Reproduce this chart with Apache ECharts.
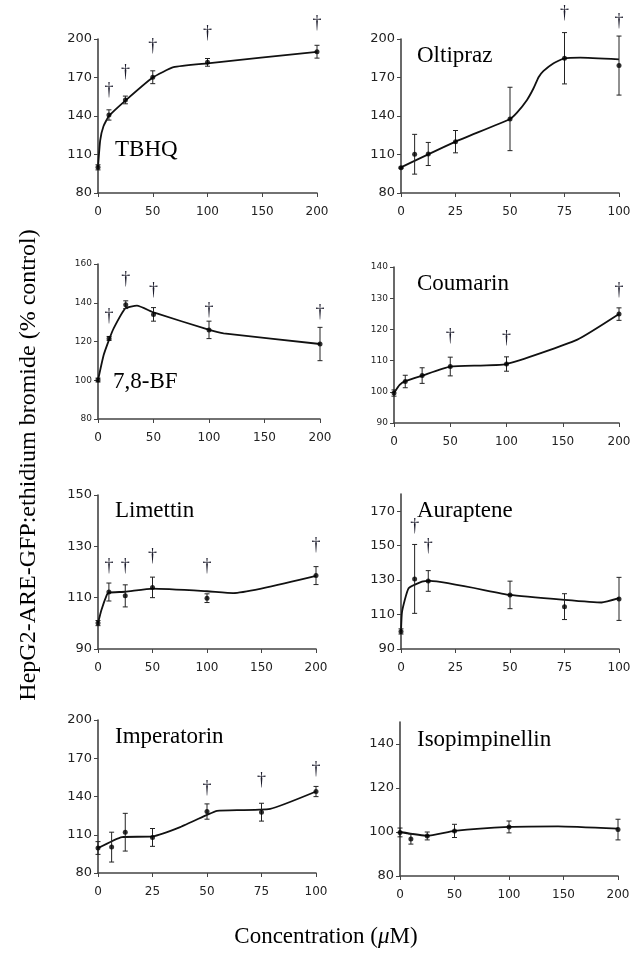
<!DOCTYPE html>
<html>
<head>
<meta charset="utf-8">
<script src="https://cdn.jsdelivr.net/npm/echarts@6/dist/echarts.min.js"></script>
<style>
  html, body { margin: 0; padding: 0; background: #fff; }
  #chart { width: 642px; height: 954px; }
</style>
</head>
<body>
<div id="chart"></div>
<script>
// ---- data (dose in µM, response in % control) ----
const tbhqDose = [0, 10, 25, 50, 100, 200];
const tbhqMean = [100, 140.8, 152.5, 170.2, 181.8, 190.1];
const tbhqErr = [2, 4, 3, 5, 3, 5];
const tbhqFit = [[0, 100], [2, 121], [5, 132], [10, 140], [25, 152], [50, 170], [69, 178], [100, 181], [200, 190]];
const tbhqSig = [[10, 160.3], [25, 174.3], [50, 194], [100, 204.4], [200, 212.2]];

const oltiDose = [0, 6.25, 12.5, 25, 50, 75, 100];
const oltiMean = [99.7, 110.2, 110.4, 120, 137.7, 185, 179.3];
const oltiErr = [0.5, 15.5, 9, 8.7, 24.7, 20, 23];
const oltiFit = [[0, 100], [25, 120], [50, 137.7], [53.2, 142.6], [57.8, 152.5], [60.8, 161.6], [63.1, 170.2], [65.4, 175.1], [70, 181.1], [74.6, 184.7], [82.2, 185.5], [100, 184.2]];
const oltiSig = [[75, 220], [100, 213.5]];

const bfDose = [0, 10, 25, 50, 100, 200];
const bfMean = [100.1, 121.6, 139, 134, 126, 118.7];
const bfErr = [1, 1, 2, 3.5, 4.5, 8.6];
const bfFit = [[0, 100], [5.1, 113], [10, 121], [14.1, 126.8], [24.6, 137.1], [35.1, 138.5], [50.1, 135], [100.3, 126], [113.2, 124.2], [200, 118.7]];
const bfSig = [[10, 132.8], [25, 152.3], [50, 146.6], [100, 136.3], [200, 134.9]];

const coumDose = [0, 10, 25, 50, 100, 200];
const coumMean = [99.6, 103.3, 105.2, 108.1, 108.9, 124.9];
const coumErr = [1, 2, 2.5, 3, 2.3, 2];
const coumFit = [[0, 99.6], [5, 102.2], [10, 103.4], [25, 105.2], [50, 108.1], [100, 108.9], [163, 116.7], [200, 124.9]];
const coumSig = [[50, 117.8], [100, 117.2], [200, 132.4]];

const limeDose = [0, 10, 25, 50, 100, 200];
const limeMean = [100.1, 112.2, 110.7, 114, 109.8, 118.6];
const limeErr = [1, 3.5, 4.3, 4, 1.7, 3.5];
const limeFit = [[0, 100], [3, 105], [8, 111], [10, 112], [25, 112.3], [50, 113.5], [100, 112.5], [124, 111.8], [200, 118.5]];
const limeSig = [[10, 122.4], [25, 122.4], [50, 126.3], [100, 122.4], [200, 130.3]];

const auraDose = [0, 6.25, 12.5, 50, 75, 100];
const auraMean = [100.2, 130.7, 129.5, 121.4, 114.6, 119.1];
const auraErr = [1.5, 20, 6, 8, 7.5, 12.5];
const auraFit = [[0, 100], [0.5, 111.8], [3.5, 125.3], [9.6, 129.1], [13.4, 129.5], [50, 121.4], [75, 118.5], [92, 117], [100, 119.5]];
const auraSig = [[6.25, 161.3], [12.5, 149.9]];

const impDose = [0, 6.25, 12.5, 25, 50, 75, 100];
const impMean = [99.6, 100.3, 112, 107.9, 128.2, 127.7, 143.9];
const impErr = [5, 11.7, 14.8, 7, 6, 7, 4];
const impFit = [[0, 99.5], [11, 108.2], [25, 108.7], [37.7, 116], [50, 125.6], [54.6, 128.8], [79, 130.3], [100, 143.9]];
const impSig = [[50, 146.5], [75, 152.5], [100, 161.4]];

const isoDose = [0, 10, 25, 50, 100, 200];
const isoMean = [99.8, 96.8, 98.2, 100.5, 102.3, 101.1];
const isoErr = [2, 2.3, 1.8, 3, 2.7, 4.7];
const isoFit = [[0, 100], [25, 98.3], [50, 100.5], [100, 102.3], [145, 102.6], [200, 101.5]];
const isoSig = [];

const names = ['TBHQ', 'Oltipraz', '7,8-BF', 'Coumarin', 'Limettin', 'Auraptene', 'Imperatorin', 'Isopimpinellin'];

const panels = [
  { name: names[0], dose: tbhqDose, mean: tbhqMean, err: tbhqErr, fit: tbhqFit, sig: tbhqSig },
  { name: names[1], dose: oltiDose, mean: oltiMean, err: oltiErr, fit: oltiFit, sig: oltiSig },
  { name: names[2], dose: bfDose, mean: bfMean, err: bfErr, fit: bfFit, sig: bfSig },
  { name: names[3], dose: coumDose, mean: coumMean, err: coumErr, fit: coumFit, sig: coumSig },
  { name: names[4], dose: limeDose, mean: limeMean, err: limeErr, fit: limeFit, sig: limeSig },
  { name: names[5], dose: auraDose, mean: auraMean, err: auraErr, fit: auraFit, sig: auraSig },
  { name: names[6], dose: impDose, mean: impMean, err: impErr, fit: impFit, sig: impSig },
  { name: names[7], dose: isoDose, mean: isoMean, err: isoErr, fit: isoFit, sig: isoSig },
];

// ---- layout ----
const grids = [
  { left: 98, top: 39, width: 219, height: 154 },
  { left: 401, top: 39, width: 218, height: 154 },
  { left: 98, top: 264, width: 222, height: 155 },
  { left: 394, top: 267, width: 225, height: 156 },
  { left: 98, top: 495, width: 218, height: 154 },
  { left: 401, top: 494, width: 218, height: 155 },
  { left: 98, top: 720, width: 218, height: 153 },
  { left: 400, top: 722, width: 218, height: 154 },
];
const yScales = [[80, 200, 30], [80, 200, 30], [80, 160, 20], [90, 140, 10], [90, 150, 20], [90, 180, 20], [80, 200, 30], [80, 150, 20]];
const xScales = [[0, 200, 50], [0, 100, 25], [0, 200, 50], [0, 200, 50], [0, 200, 50], [0, 100, 25], [0, 100, 25], [0, 200, 50]];
const yFont = [13, 13, 9, 9, 13, 13, 13, 13];
const titlePos = [[115, 150], [417, 56], [113, 382], [417, 284], [115, 511], [417, 511], [115, 737], [417, 740]];

const axisLine = { lineStyle: { color: '#444', width: 1.6 } };
const tickLabel = '#222';
const serif = '"Liberation Serif", "DejaVu Serif", serif';

const chart = echarts.init(document.getElementById('chart'));

const xAxis = [], yAxis = [], series = [], graphic = [];
panels.forEach((p, i) => {
  xAxis.push({
    type: 'value', gridIndex: i,
    min: xScales[i][0], max: xScales[i][1], interval: xScales[i][2],
    axisLine: axisLine,
    axisTick: { show: true, length: 4, lineStyle: { color: '#444' } },
    axisLabel: { color: tickLabel, fontFamily: 'DejaVu Sans', fontSize: 12, margin: 13 },
    splitLine: { show: false },
  });
  yAxis.push({
    type: 'value', gridIndex: i,
    min: yScales[i][0], max: yScales[i][1], interval: yScales[i][2],
    axisLine: { show: true, lineStyle: { color: '#444', width: 1.6 } },
    axisTick: { show: true, length: 4, lineStyle: { color: '#444' } },
    axisLabel: { color: tickLabel, fontFamily: 'DejaVu Sans', fontSize: yFont[i], margin: 6, showMaxLabel: (yScales[i][1] - yScales[i][0]) % yScales[i][2] === 0 },
    splitLine: { show: false },
  });

  // fitted curve
  series.push({
    type: 'line', xAxisIndex: i, yAxisIndex: i,
    data: p.fit, showSymbol: false, smooth: 0.15,
    lineStyle: { color: '#111', width: 1.8 },
    clip: false, z: 2,
  });
  // error bars
  series.push({
    type: 'custom', xAxisIndex: i, yAxisIndex: i,
    data: p.dose.map((d, k) => [d, p.mean[k], p.err[k]]),
    encode: { x: 0, y: 1 },
    clip: false, z: 3,
    renderItem: (params, api) => {
      const x = api.value(0), m = api.value(1), e = api.value(2);
      const top = api.coord([x, m + e]);
      const bot = api.coord([x, m - e]);
      const w = 2.5;
      const st = { stroke: '#222', lineWidth: 1 };
      return {
        type: 'group',
        children: [
          { type: 'line', shape: { x1: top[0], y1: top[1], x2: bot[0], y2: bot[1] }, style: st },
          { type: 'line', shape: { x1: top[0] - w, y1: top[1], x2: top[0] + w, y2: top[1] }, style: st },
          { type: 'line', shape: { x1: bot[0] - w, y1: bot[1], x2: bot[0] + w, y2: bot[1] }, style: st },
        ],
      };
    },
  });
  // means
  series.push({
    type: 'scatter', xAxisIndex: i, yAxisIndex: i,
    data: p.dose.map((d, k) => [d, p.mean[k]]),
    symbolSize: 5, itemStyle: { color: '#000' }, z: 4, clip: false,
  });
  // significance daggers
  series.push({
    type: 'custom', xAxisIndex: i, yAxisIndex: i,
    data: p.sig, encode: { x: 0, y: 1 }, clip: false, z: 5,
    renderItem: (params, api) => {
      const pt = api.coord([api.value(0), api.value(1)]);
      return {
        type: 'text', x: pt[0], y: pt[1],
        style: { text: '\u2020', fontFamily: serif, fontSize: 18, fill: '#1c1c2c', align: 'center', verticalAlign: 'middle' },
      };
    },
  });

  graphic.push({
    type: 'text', left: titlePos[i][0], top: titlePos[i][1] - 12,
    style: { text: p.name, fontFamily: serif, fontSize: 23, fill: '#000' },
  });
});

graphic.push({
  type: 'text', x: 29, y: 465, rotation: Math.PI / 2,
  style: { text: 'HepG2-ARE-GFP:ethidium bromide (% control)', fontFamily: serif, fontSize: 24, fill: '#000', align: 'center', verticalAlign: 'middle' },
});
graphic.push({
  type: 'text', x: 326, y: 937,
  style: {
    text: '{a|Concentration (}{i|\u03bc}{a|M)}', align: 'center', verticalAlign: 'middle',
    rich: {
      a: { fontFamily: serif, fontSize: 23, fill: '#000' },
      i: { fontFamily: serif, fontSize: 23, fontStyle: 'italic', fill: '#000' },
    },
  },
});

chart.setOption({
  animation: false,
  backgroundColor: '#fff',
  grid: grids,
  xAxis: xAxis,
  yAxis: yAxis,
  series: series,
  graphic: graphic,
});
</script>
</body>
</html>
